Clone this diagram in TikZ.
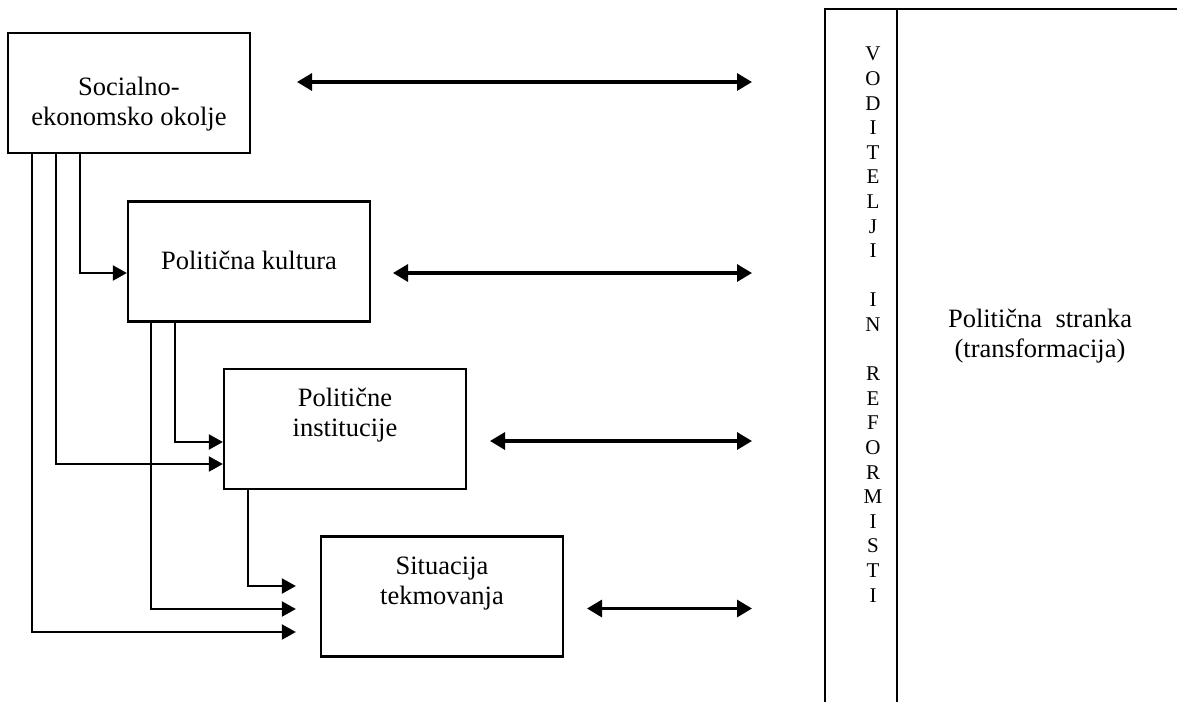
\documentclass[tikz,border=0pt]{standalone}
\usepackage{fontspec}
\setmainfont{Liberation Serif}
\usetikzlibrary{arrows.meta,calc}
\begin{document}
\begin{tikzpicture}[x=1pt,y=-1pt,
  box/.style={draw,line width=2.3pt,minimum width=242pt,minimum height=120pt,inner sep=0pt},
  lbl/.style={align=center,inner sep=0pt,font=\fontsize{26.5}{30}\selectfont},
  conn/.style={line width=2.2pt,-{Triangle[length=14pt,width=15pt]}},
  dbl/.style={line width=3.2pt,{Triangle[length=15pt,width=17pt]}-{Triangle[length=15pt,width=17pt]}},
  frame/.style={line width=2.2pt}
]
\useasboundingbox (0,0) rectangle (1177,702);
% boxes
\node[box] (b1) at (129,93) {};
\node[box] (b2) at (249,261.5) {};
\node[box] (b3) at (345,429) {};
\node[box] (b4) at (442,596.5) {};
% labels
\node[lbl] (t1) at (129,104) {Socialno-\\ekonomsko okolje};
\node[lbl] (t2) at (249,260.5) {Politična kultura};
\node[lbl] (t3) at (345,415) {Politične\\institucije};
\node[lbl] (t4) at (442,584) {Situacija\\tekmovanja};
% connectors
\draw[conn] ($(b1.south west)+(73,0)$) |- ($(b2.west)+(0,11.5)$);
\draw[conn] ($(b1.south west)+(49,0)$) |- ($(b3.west)+(0,35)$);
\draw[conn] ($(b1.south west)+(25,0)$) |- ($(b4.west)+(-24,35.5)$);
\draw[conn] ($(b2.south west)+(48,0)$) |- ($(b3.west)+(0,13)$);
\draw[conn] ($(b2.south west)+(24,0)$) |- ($(b4.west)+(-24,12.5)$);
\draw[conn] ($(b3.south west)+(25,0)$) |- ($(b4.west)+(-24,-10.5)$);
% double arrows
\coordinate (a1l) at (297,82);  \coordinate (a1r) at (752,82);
\coordinate (a2l) at (393,273); \coordinate (a2r) at (752,273);
\coordinate (a3l) at (490,441); \coordinate (a3r) at (752,441);
\coordinate (a4l) at (587,608.5); \coordinate (a4r) at (752,608.5);
\draw[dbl] (a1l) -- (a1r);
\draw[dbl] (a2l) -- (a2r);
\draw[dbl] (a3l) -- (a3r);
\draw[dbl] (a4l) -- (a4r);
% right frame
\draw[frame] (825,702) -- (825,9) -- (1177,9);
\draw[line width=1.8pt] (897,9) -- (897,702);
\node[align=center,inner sep=0pt,anchor=north,font=\fontsize{21}{24.6}\selectfont] (vodi) at (873,47)
 {V\\O\\D\\I\\T\\E\\L\\J\\I\\~\\I\\N\\~\\R\\E\\F\\O\\R\\M\\I\\S\\T\\I};
\node[lbl] (party) at (1040,336) {Politična~ stranka\\(transformacija)};
\end{tikzpicture}
\end{document}
